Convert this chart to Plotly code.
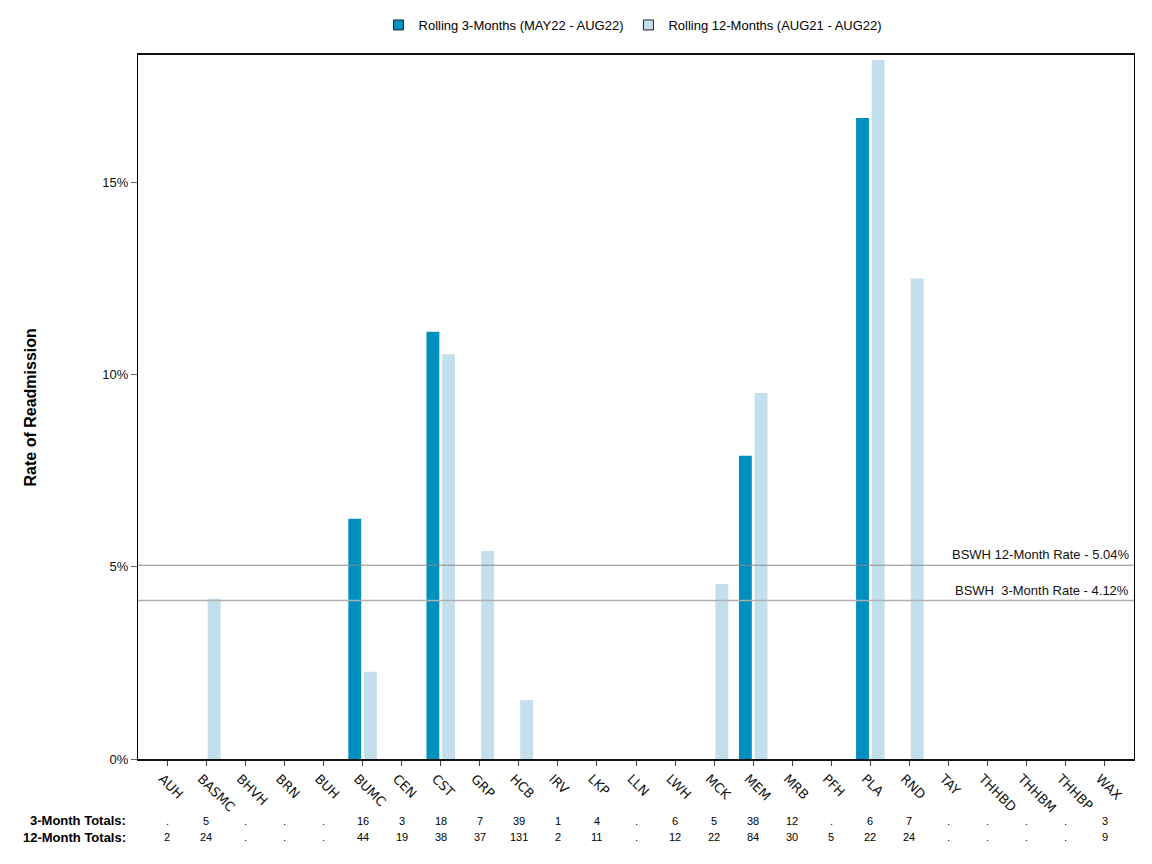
import plotly.graph_objects as go

categories = ["AUH", "BASMC", "BHVH", "BRN", "BUH", "BUMC", "CEN", "CST", "GRP", "HCB",
              "IRV", "LKP", "LLN", "LWH", "MCK", "MEM", "MRB", "PFH", "PLA", "RND",
              "TAY", "THHBD", "THHBM", "THHBP", "WAX"]
rate_3m = [0, 0, 0, 0, 0, 6.25, 0, 11.11, 0, 0,
           0, 0, 0, 0, 0, 7.89, 0, 0, 16.67, 0,
           0, 0, 0, 0, 0]
rate_12m = [0, 4.17, 0, 0, 0, 2.27, 0, 10.53, 5.41, 1.53,
            0, 0, 0, 0, 4.55, 9.52, 0, 0, 18.18, 12.5,
            0, 0, 0, 0, 0]
totals_3m = [".", "5", ".", ".", ".", "16", "3", "18", "7", "39", "1", "4", ".", "6", "5",
             "38", "12", ".", "6", "7", ".", ".", ".", ".", "3"]
totals_12m = ["2", "24", ".", ".", ".", "44", "19", "38", "37", "131", "2", "11", ".", "12", "22",
              "84", "30", "5", "22", "24", ".", ".", ".", ".", "9"]
y_ticks = [0, 5, 10, 15]
y_tick_labels = ["0%", "5%", "10%", "15%"]
bswh_12m_rate = 5.04
bswh_3m_rate = 4.12
name_3m = "Rolling 3-Months (MAY22 - AUG22)"
name_12m = "Rolling 12-Months (AUG21 - AUG22)"

DARK = "#0090c0"
LIGHT = "#c3dfeb"
FONT = "Liberation Sans"

fig = go.Figure()
fig.add_trace(go.Bar(x=categories, y=rate_3m, name=name_3m, marker=dict(color=DARK, line=dict(width=0)),
                     showlegend=False))
fig.add_trace(go.Bar(x=categories, y=rate_12m, name=name_12m, marker=dict(color=LIGHT, line=dict(width=0)),
                     showlegend=False))
# legend proxies
fig.add_trace(go.Scatter(x=[None], y=[None], mode="markers", name=name_3m,
                         marker=dict(symbol="square", size=10, color=DARK, line=dict(color="#222", width=1))))
fig.add_trace(go.Scatter(x=[None], y=[None], mode="markers", name=name_12m,
                         marker=dict(symbol="square", size=10, color=LIGHT, line=dict(color="#222", width=1))))

fig.add_hline(y=bswh_12m_rate, line=dict(color="#8a8a8a", width=1))
fig.add_hline(y=bswh_3m_rate, line=dict(color="#b0b0b0", width=1.5))

annotations = [
    dict(x=1, xref="paper", y=bswh_12m_rate, yref="y", xanchor="right", yanchor="bottom",
         text="BSWH 12-Month Rate - %.2f%%" % bswh_12m_rate, showarrow=False, xshift=-3, yshift=1,
         font=dict(size=13, color="#111", family=FONT)),
    dict(x=1, xref="paper", y=bswh_3m_rate, yref="y", xanchor="right", yanchor="bottom",
         text="BSWH\u00a0 3-Month Rate - %.2f%%" % bswh_3m_rate, showarrow=False, xshift=-3, yshift=1,
         font=dict(size=13, color="#111", family=FONT)),
    dict(x=-0.108, xref="paper", y=0.5, yref="paper", xanchor="center", yanchor="middle",
         text="<b>Rate of Readmission</b>", textangle=-90,
         showarrow=False, font=dict(size=16, color="#000", family=FONT)),
    dict(x=-0.01, xref="paper", y=-0.088, yref="paper", xanchor="right", yanchor="middle",
         text="<b>3-Month Totals:</b>", showarrow=False, font=dict(size=13, color="#000", family=FONT)),
    dict(x=-0.01, xref="paper", y=-0.111, yref="paper", xanchor="right", yanchor="middle",
         text="<b>12-Month Totals:</b>", showarrow=False, font=dict(size=13, color="#000", family=FONT)),
]
for c, t3, t12 in zip(categories, totals_3m, totals_12m):
    annotations.append(dict(x=c, xref="x", y=-0.088, yref="paper", xanchor="center", yanchor="middle",
                            text=t3, showarrow=False, font=dict(size=11, color="#000", family=FONT)))
    annotations.append(dict(x=c, xref="x", y=-0.111, yref="paper", xanchor="center", yanchor="middle",
                            text=t12, showarrow=False, font=dict(size=11, color="#000", family=FONT)))

W, H = 1152, 864
fig.update_layout(
    width=W, height=H,
    margin=dict(l=130, r=W - 1126, t=47, b=H - 751, autoexpand=False),
    paper_bgcolor="white", plot_bgcolor="white",
    barmode="group", bargap=0.2, bargroupgap=0.175,
    font=dict(family=FONT, size=12, color="#000"),
    legend=dict(orientation="h", x=0.497, xanchor="center", xref="paper", y=1 - 17 / H,
                yref="container", yanchor="middle",
                font=dict(size=13, family=FONT), traceorder="normal"),
    annotations=annotations,
    xaxis=dict(range=[-0.75, 24.75], tickangle=45, ticks="outside", ticklen=5, tickcolor="#444",
               showline=True, linecolor="#111", linewidth=2, mirror=True, automargin=False,
               ticklabelshift=-5,
               tickfont=dict(size=13, family="DejaVu Sans", color="#111"), showgrid=False),
    yaxis=dict(range=[0, 18.31], tickmode="array", tickvals=y_ticks, ticktext=y_tick_labels,
               ticks="outside", ticklen=6, automargin=False,
               tickcolor="#666", showline=True, linecolor="#000", linewidth=1, mirror=True,
               showgrid=False, zeroline=False, tickfont=dict(size=13, family=FONT, color="#111")),
)

fig.write_html("out.html")
